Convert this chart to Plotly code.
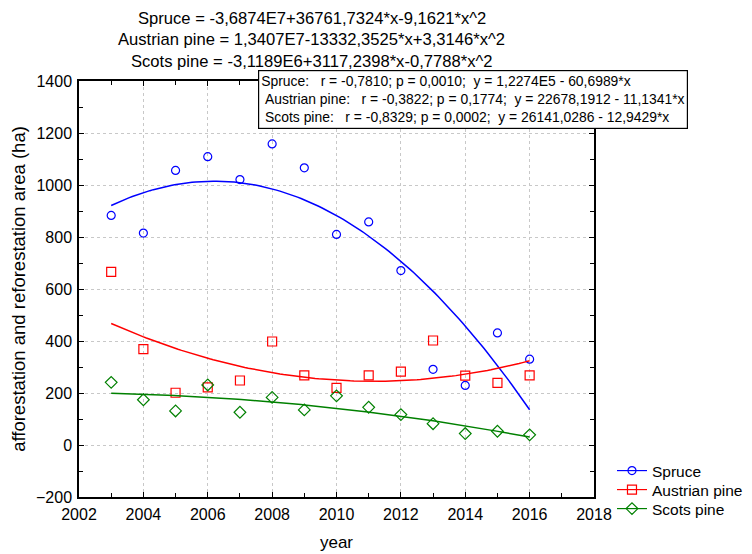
import numpy as np
import plotly.graph_objects as go

years = list(range(2003, 2017))
spruce = [883, 815, 1056, 1109, 1021, 1158, 1066, 810, 858, 671, 291, 229, 431, 330]
austrian = [666, 369, 201, 222, 248, 398, 268, 220, 268, 282, 402, 267, 239, 268]
scots = [241, 174, 131, 231, 126, 183, 135, 189, 145, 117, 82, 44, 53, 39]

names = ['Spruce', 'Austrian pine', 'Scots pine']
colors = ['#0000ff', '#ff0000', '#008000']
symbols = ['circle-open', 'square-open', 'diamond-open']
msizes = [8, 9, 9]

equations = [
    'Spruce = -3,6874E7+36761,7324*x-9,1621*x^2',
    'Austrian pine = 1,3407E7-13332,3525*x+3,3146*x^2',
    'Scots pine = -3,1189E6+3117,2398*x-0,7788*x^2',
]
stats = [
    'Spruce:   r = -0,7810; p = 0,0010;  y = 1,2274E5 - 60,6989*x',
    ' Austrian pine:   r = -0,3822; p = 0,1774;  y = 22678,1912 - 11,1341*x',
    ' Scots pine:   r = -0,8329; p = 0,0002;  y = 26141,0286 - 12,9429*x',
]

FONT = 'Liberation Sans, Arial'

fig = go.Figure()

x = np.array(years, dtype=float)
xs = np.linspace(2003, 2016, 120)
legend_ids = ['legend', 'legend2', 'legend3']
for vals, name, col, sym, ms, lg in zip([spruce, austrian, scots], names, colors, symbols, msizes, legend_ids):
    # квадратичная аппроксимация
    c = np.polyfit(x - 2009.5, vals, 2)
    fig.add_trace(go.Scatter(x=xs, y=np.polyval(c, xs - 2009.5), mode='lines',
                             line=dict(color=col, width=1.5), showlegend=False))
    fig.add_trace(go.Scatter(x=years, y=vals, mode='markers', showlegend=False,
                             marker=dict(symbol=sym, color=col, size=ms, line=dict(width=1.2))))
    fig.add_trace(go.Scatter(x=[None], y=[None], mode='lines+markers', name=name, legend=lg,
                             line=dict(color=col, width=1.2),
                             marker=dict(symbol=sym, color=col, size=ms, line=dict(width=1.2))))

axis_common = dict(
    showline=True, linecolor='black', linewidth=1.5, mirror='allticks',
    ticks='inside', ticklen=5, tickcolor='black', automargin=False,
    ticklabelstandoff=2,
    showgrid=True, gridcolor='#c8c8c8', griddash='dot', gridwidth=1,
    zeroline=False, tickfont=dict(size=16, color='black', family=FONT),
)

fig.update_xaxes(range=[2002, 2018], dtick=2, tick0=2002,
                 minor=dict(ticks='inside', ticklen=4, dtick=1, tickcolor='black', showgrid=False),
                 title=dict(text='year', font=dict(size=17, family=FONT), standoff=14),
                 **axis_common)
fig.update_yaxes(range=[-200, 1400], dtick=200,
                 minor=dict(ticks='inside', ticklen=4, dtick=100, tickcolor='black', showgrid=False),
                 title=dict(text='afforestation and reforestation area (ha)', font=dict(size=18.5, family=FONT), standoff=14),
                 **axis_common)

for txt, yy in zip(equations, [1.1514, 1.0986, 1.048]):
    fig.add_annotation(text=txt, xref='paper', yref='paper', x=0.4524, y=yy,
                       xanchor='center', yanchor='middle', showarrow=False,
                       font=dict(size=16.6, color='black', family=FONT))

fig.add_annotation(text='<br>'.join(s.replace(' ', '\u00a0') for s in stats),
                   xref='paper', yref='paper', x=0.3476, y=1.0264,
                   xanchor='left', yanchor='top', align='left', showarrow=False,
                   bordercolor='black', borderwidth=1.2, bgcolor='white', borderpad=2,
                   font=dict(size=13.9, color='black', family=FONT))

legend_style = dict(xref='container', yref='container', x=0.8118, xanchor='left',
                    yanchor='middle', font=dict(size=15.5, family=FONT, color='black'),
                    bgcolor='rgba(0,0,0,0)', borderwidth=0)
# страница смещена на 8px (отступ body), поэтому фигура меньше на 8px
fig.update_layout(
    width=744, height=546,
    margin=dict(l=71, r=158, t=73, b=57),
    paper_bgcolor='white', plot_bgcolor='white',
    font=dict(family=FONT, color='black'),
    legend=dict(y=0.152, **legend_style),
    legend2=dict(y=0.1172, **legend_style),
    legend3=dict(y=0.0824, **legend_style),
)

fig.write_html('out.html')
